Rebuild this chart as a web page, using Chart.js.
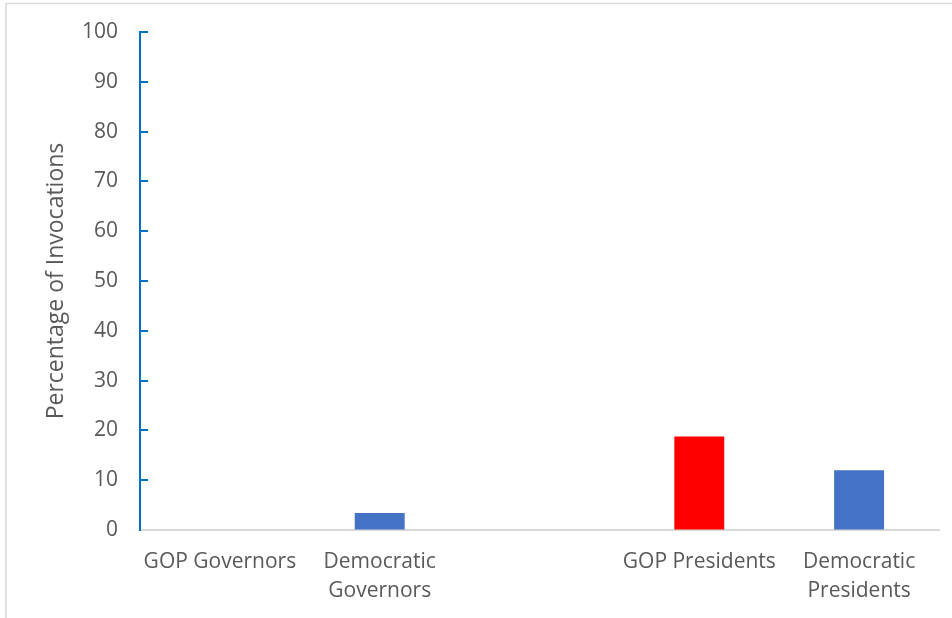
<!DOCTYPE html>
<html>
<head>
<meta charset="utf-8">
<script src="https://cdn.jsdelivr.net/npm/chart.js@4/dist/chart.umd.min.js"></script>
<style>
  html, body { margin: 0; padding: 0; background: #ffffff; }
  #wrap { position: relative; width: 952px; height: 618px; }
  canvas { display: block; }
</style>
</head>
<body>
<div id="wrap"><canvas id="c" width="952" height="618"></canvas></div>
<script>
// ---- data ----
const categories = [
  ["GOP Governors"],
  ["Democratic", "Governors"],
  [""],
  ["GOP Presidents"],
  ["Democratic", "Presidents"]
];
const percentages = [0, 3.4, null, 18.8, 12.0];
const barColors = ["#4472C4", "#4472C4", "#4472C4", "#FF0000", "#4472C4"];
const yTickMin = 0;
const yTickMax = 100;
const yTickStep = 10;
const yAxisTitle = "Percentage of Invocations";

const FONT = "'Open Sans', 'Liberation Sans', sans-serif";
const TEXT = "#595959";

const framePlugin = {
  id: 'frame',
  beforeDraw(chart) {
    const ctx = chart.ctx;
    ctx.save();
    ctx.fillStyle = '#ffffff';
    ctx.fillRect(0, 0, chart.width, chart.height);
    ctx.strokeStyle = '#d9d9d9';
    ctx.lineWidth = 1.5;
    ctx.beginPath();
    ctx.moveTo(6, chart.height);
    ctx.lineTo(6, 3.5);
    ctx.lineTo(chart.width, 3.5);
    ctx.stroke();
    ctx.restore();
  }
};

// inward tick marks on the value axis, placed by the scale itself
const innerTicksPlugin = {
  id: 'innerTicks',
  afterDraw(chart) {
    const scale = chart.scales.y;
    const ctx = chart.ctx;
    const x0 = chart.chartArea.left;
    ctx.save();
    ctx.strokeStyle = '#0070C0';
    ctx.lineWidth = 2;
    scale.ticks.forEach((t, i) => {
      if (i === 0) return;
      const y = Math.round(scale.getPixelForTick(i));
      ctx.beginPath();
      ctx.moveTo(x0, y);
      ctx.lineTo(x0 + 8, y);
      ctx.stroke();
    });
    ctx.restore();
  }
};

new Chart(document.getElementById('c'), {
  type: 'bar',
  data: {
    labels: categories,
    datasets: [{
      data: percentages,
      backgroundColor: barColors,
      borderWidth: 0,
      barPercentage: 1,
      categoryPercentage: 0.3125
    }]
  },
  options: {
    responsive: false,
    animation: false,
    devicePixelRatio: 1,
    layout: { padding: { top: 32, right: 13, left: 0, bottom: 0 } },
    plugins: {
      legend: { display: false },
      tooltip: { enabled: false },
      title: { display: false }
    },
    scales: {
      x: {
        grid: { display: true, drawOnChartArea: false, drawTicks: false },
        border: { display: true, color: '#d9d9d9', width: 2 },
        ticks: {
          color: TEXT,
          font: { family: FONT, size: 21, lineHeight: 1.35 },
          padding: 18,
          maxRotation: 0,
          autoSkip: false
        },
        afterFit(scale) { scale.height = 88; scale.paddingLeft = 0; scale.paddingRight = 0; }
      },
      y: {
        min: yTickMin,
        max: yTickMax,
        ticks: {
          stepSize: yTickStep,
          color: TEXT,
          font: { family: FONT, size: 21 },
          padding: 22
        },
        grid: {
          display: true,
          drawOnChartArea: false,
          drawTicks: false
        },
        border: { display: true, color: '#0070C0', width: 2 },
        title: {
          display: true,
          text: yAxisTitle,
          color: TEXT,
          font: { family: FONT, size: 23 },
          padding: { top: 43, bottom: 0 }
        },
        afterFit(scale) { scale.width = 140; scale.paddingTop = 0; scale.paddingBottom = 0; }
      }
    }
  },
  plugins: [framePlugin, innerTicksPlugin]
});
</script>
</body>
</html>
